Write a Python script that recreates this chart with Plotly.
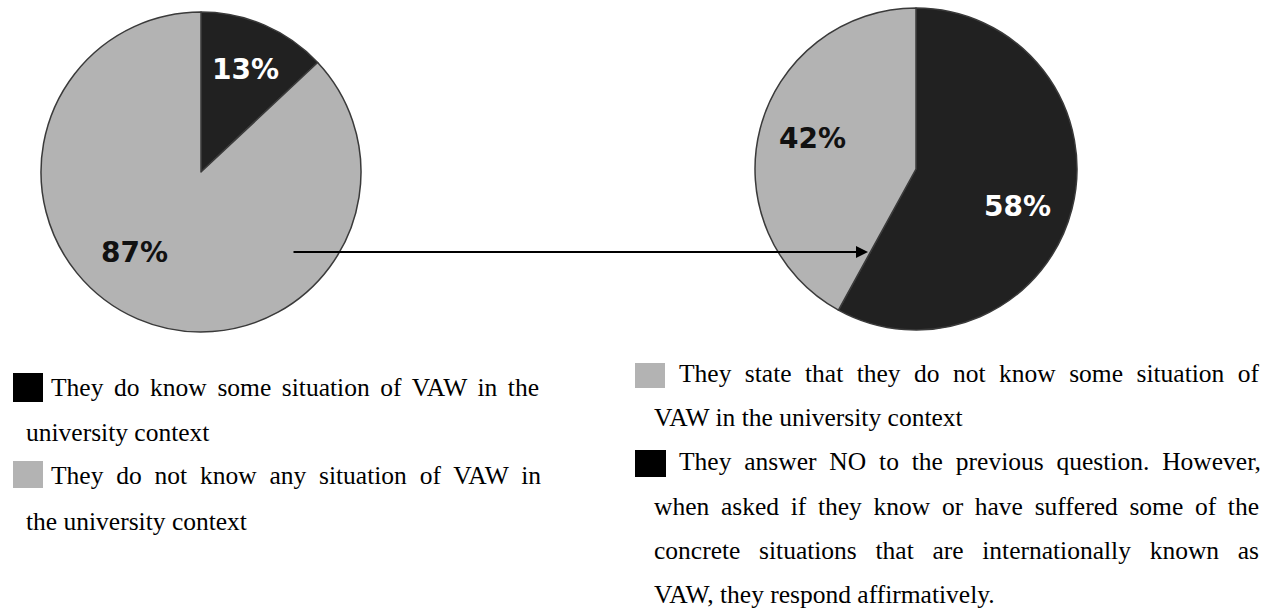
import math
import json
import plotly.graph_objects as go

W, H = 1262, 612

# ---------------- data ----------------
left_labels = [
    "They do know some situation of VAW in the university context",
    "They do not know any situation of VAW in the university context",
]
left_values = [13, 87]

right_labels = [
    "They answer NO to the previous question. However, when asked if they know or have "
    "suffered some of the concrete situations that are internationally known as VAW, "
    "they respond affirmatively.",
    "They state that they do not know some situation of VAW in the university context",
]
right_values = [58, 42]

left_legend_lines = [
    "They do know some situation of VAW in the",
    "university context",
    "They do not know any situation of VAW in",
    "the university context",
]
right_legend_lines = [
    "They state that they do not know some situation of",
    "VAW in the university context",
    "They answer NO to the previous question. However,",
    "when asked if they know or have suffered some of the",
    "concrete situations that are internationally known as",
    "VAW, they respond affirmatively.",
]

# ---------------- style ----------------
DARK = "#212121"
GRAY = "#b3b3b3"
OUTLINE = "#3a3a3a"
SERIF = "Liberation Serif, Times New Roman, serif"
SANS = "DejaVu Sans, Verdana, sans-serif"


def px(x, y):
    return x / W, 1 - y / H


fig = go.Figure()

# pie geometry (pixels from top-left)
pies = [
    dict(values=left_values, labels=left_labels, cx=201, cy=172, r=160,
         colors=[DARK, GRAY], tcol=["white", "#111111"], frac=[0.70, 0.65], shift=[0, 16]),
    dict(values=right_values, labels=right_labels, cx=916, cy=169, r=161,
         colors=[DARK, GRAY], tcol=["white", "#111111"], frac=[0.67, 0.67], shift=[6, 2]),
]

annotations = []
shapes = []

for p in pies:
    x0, y1 = px(p["cx"] - p["r"], p["cy"] - p["r"])
    x1, y0 = px(p["cx"] + p["r"], p["cy"] + p["r"])
    fig.add_trace(go.Pie(
        values=p["values"], labels=p["labels"], sort=False, direction="clockwise",
        rotation=0, textinfo="none", hoverinfo="label+percent",
        marker=dict(colors=p["colors"], line=dict(color=OUTLINE, width=1.5)),
        domain=dict(x=[x0, x1], y=[y0, y1]),
    ))
    total = sum(p["values"])
    start = 0.0
    for i, v in enumerate(p["values"]):
        span = 360.0 * v / total
        mid = math.radians(start + span / 2 + p["shift"][i])
        d = p["r"] * p["frac"][i]
        lx, ly = px(p["cx"] + d * math.sin(mid), p["cy"] - d * math.cos(mid))
        annotations.append(dict(
            x=lx, y=ly, xref="paper", yref="paper", showarrow=False,
            text=f"{round(100 * v / total)}%",
            font=dict(family=SANS, size=28, color=p["tcol"][i], weight="bold"),
            xanchor="center", yanchor="middle",
        ))
        start += span

# arrow linking the two pies
hx, hy = px(868, 252)
annotations.append(dict(
    x=hx, y=hy, ax=292 - 868, ay=0, xref="paper", yref="paper", axref="pixel", ayref="pixel",
    text="", showarrow=True, arrowhead=2, arrowsize=1.2, arrowwidth=2, arrowcolor="black",
))

# legend squares
squares = [
    (13, 373, 43, 402, "#000000"),
    (13, 461, 43, 488, GRAY),
    (635, 363, 665, 388, GRAY),
    (635, 450, 666, 477, "#000000"),
]
for (a, b, c, d, col) in squares:
    xa, yb = px(a, d)
    xc, yd = px(c, b)
    shapes.append(dict(type="rect", xref="paper", yref="paper", x0=xa, x1=xc, y0=yb, y1=yd,
                       fillcolor=col, line=dict(width=0)))

FS = 25.5
BASE_OFF = 8.6
left_starts = [50, 25, 50, 25]
left_base = [396, 441, 484, 530]
right_starts = [678, 653, 678, 653, 653, 653]
right_base = [382, 426, 470, 515, 559, 603]

for lines, starts, bases in [(left_legend_lines, left_starts, left_base),
                             (right_legend_lines, right_starts, right_base)]:
    for line, sx, by in zip(lines, starts, bases):
        ax_, ay_ = px(sx, by - BASE_OFF)
        annotations.append(dict(
            x=ax_, y=ay_, xref="paper", yref="paper", showarrow=False, text=line,
            font=dict(family=SERIF, size=FS, color="#000000"),
            xanchor="left", yanchor="middle", align="left", borderpad=0,
        ))

# justified line widths (pixels)
just = {
    left_legend_lines[0]: 488,
    left_legend_lines[2]: 490,
    right_legend_lines[0]: 580,
    right_legend_lines[2]: 582,
    right_legend_lines[3]: 605,
    right_legend_lines[4]: 605,
}

fig.update_layout(
    width=W, height=H, margin=dict(l=0, r=0, t=0, b=0),
    paper_bgcolor="white", plot_bgcolor="white", showlegend=False,
    annotations=annotations, shapes=shapes,
)

js = """
(function(){
  var targets = %s;
  function fix(){
    var gd = document.getElementById('{plot_id}');
    if(!gd) return;
    gd.querySelectorAll('text.annotation-text').forEach(function(t){
      var key = t.textContent;
      if (targets.hasOwnProperty(key)) {
        t.style.wordSpacing = '0px';
        var w = t.getComputedTextLength();
        var n = (key.match(/ /g) || []).length;
        if (n > 0) t.style.wordSpacing = ((targets[key] - w) / n) + 'px';
      }
    });
  }
  fix();
  var gd = document.getElementById('{plot_id}');
  if (gd && gd.on) gd.on('plotly_afterplot', fix);
})();
""" % json.dumps(just)

fig.write_html("out.html", post_script=js)
